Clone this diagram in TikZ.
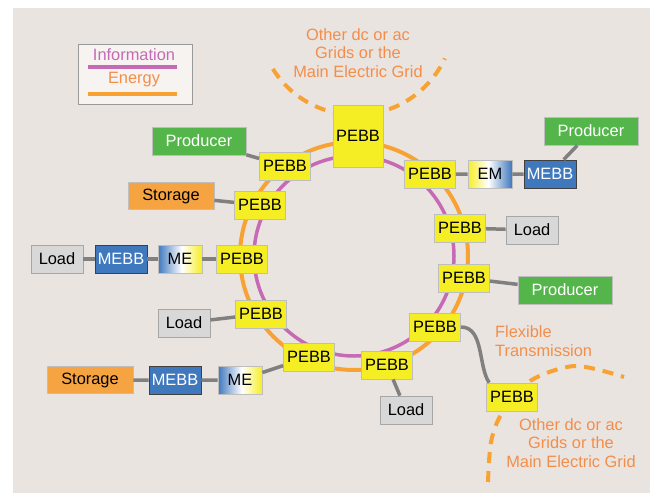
\documentclass[tikz,border=0pt]{standalone}
\usepackage{fontspec}
\setmainfont{Liberation Sans}
\usetikzlibrary{positioning}
\definecolor{panelbg}{RGB}{234,228,224}
\definecolor{legendbg}{RGB}{246,243,241}
\definecolor{ringorange}{RGB}{248,162,52}
\definecolor{ringpurple}{RGB}{198,106,182}
\definecolor{pebbyellow}{RGB}{246,238,36}
\definecolor{prodgreen}{RGB}{84,182,74}
\definecolor{stororange}{RGB}{246,164,66}
\definecolor{mebblue}{RGB}{64,120,190}
\definecolor{loadgray}{RGB}{216,216,216}
\definecolor{labelorange}{RGB}{243,142,74}
\definecolor{linkgray}{RGB}{128,128,128}
\definecolor{boxedge}{RGB}{190,190,190}
\pgfdeclarehorizontalshading{meshade}{100bp}{color(0bp)=(mebblue); color(25bp)=(mebblue); color(52bp)=(white); color(75bp)=(pebbyellow); color(100bp)=(pebbyellow)}
\pgfdeclarehorizontalshading{emshade}{100bp}{color(0bp)=(pebbyellow); color(25bp)=(pebbyellow); color(48bp)=(white); color(75bp)=(mebblue); color(100bp)=(mebblue)}
\tikzset{
  block/.style={rectangle, draw=boxedge, line width=0.8pt, minimum height=28pt, inner sep=0, font=\fontsize{16.4}{19}\selectfont},
  pebb_box/.style={block, fill=pebbyellow, minimum width=51pt},
  big_pebb_box/.style={pebb_box, minimum width=50pt, minimum height=62pt},
  load_box/.style={block, fill=loadgray, draw=black!35, minimum width=52pt},
  prod_box/.style={block, fill=prodgreen, text=white, minimum width=94pt},
  stor_box/.style={block, fill=stororange, minimum width=86pt, minimum height=27pt},
  mebb_box/.style={block, fill=mebblue, draw=black!75, text=white, minimum width=52pt},
  me_box/.style={block, minimum width=44pt, shading=meshade},
  em_box/.style={block, minimum width=44pt, shading=emshade},
  conn_line/.style={-, draw=linkgray, line width=3.5pt},
  ring_energy/.style={draw=ringorange, line width=4pt},
  ring_info/.style={draw=ringpurple, line width=3.5pt},
  grid_link/.style={draw=ringorange, line width=4pt, dash pattern=on 11pt off 8pt},
  grid_label/.style={text=labelorange, align=center, inner sep=0, font=\fontsize{16.4}{18.7}\selectfont}
}
\begin{document}
\begin{tikzpicture}[x=1pt, y=-1pt]
\useasboundingbox (0,0) rectangle (650,493);
\fill[panelbg] (13,8) rectangle (650,493);

%% Legend
\node[draw=black!40, line width=1pt, fill=legendbg, minimum width=114pt, minimum height=60pt, inner sep=0] at (135,74) (legend) {};
\node[grid_label, text=ringpurple] at (134,55) (info_txt) {Information};
\draw[ring_info, line width=4pt] (88,67) -- (177,67);
\node[grid_label] at (134,80) (energy_txt) {Energy};
\draw[ring_energy] (88,94) -- (177,94);

%% Ring
\draw[ring_energy] (354,256) circle[radius=114];
\draw[ring_info] (354,256) circle[radius=100];

%% Other grids
\draw[grid_link] (356,17) ++(148:98) arc[start angle=148, end angle=25, radius=98];
\draw[grid_link] plot[smooth] coordinates {(488,482) (491,442) (502,413) (530,381) (575,366) (624,377)};
\node[grid_label] at (358,53) (grid_top) {Other dc or ac\\Grids or the\\Main Electric Grid};
\node[grid_label] at (571,443) (grid_bot) {Other dc or ac\\Grids or the\\Main Electric Grid};
\node[grid_label, anchor=west, align=left] at (495,341) (flex_txt) {Flexible\\Transmission};

%% PEBBs
\node[big_pebb_box] at (358,136) (pebb1) {PEBB};
\node[pebb_box] at (285,166) (pebb2) {PEBB};
\node[pebb_box] at (260,205) (pebb3) {PEBB};
\node[pebb_box] at (242,259) (pebb4) {PEBB};
\node[pebb_box] at (261,314) (pebb5) {PEBB};
\node[pebb_box] at (309,357) (pebb6) {PEBB};
\node[pebb_box] at (387,365) (pebb7) {PEBB};
\node[pebb_box] at (435,327) (pebb8) {PEBB};
\node[pebb_box] at (464,278) (pebb9) {PEBB};
\node[pebb_box] at (460,228) (pebb10) {PEBB};
\node[pebb_box] at (430,174) (pebb11) {PEBB};
\node[pebb_box] at (512,397) (pebb12) {PEBB};

%% Units
\node[prod_box] at (199,141) (prod1) {Producer};
\node[stor_box] at (171,196) (stor1) {Storage};
\node[load_box] at (57,259)  (load1) {Load};
\node[mebb_box] at (121,259) (mebb1) {MEBB};
\node[me_box]   at (180,259) (me1)   {ME};
\node[load_box] at (184,323) (load2) {Load};
\node[stor_box] at (90,380)  (stor2) {Storage};
\node[mebb_box] at (175,380) (mebb2) {MEBB};
\node[me_box]   at (240,380) (me2)   {ME};
\node[load_box] at (406,410) (load3) {Load};
\node[prod_box] at (565,290) (prod2) {Producer};
\node[load_box] at (532,230) (load4) {Load};
\node[em_box]   at (490,174) (em1)   {EM};
\node[mebb_box] at (550,174) (mebb3) {MEBB};
\node[prod_box] at (591,131) (prod3) {Producer};

%% Connections
\draw[conn_line] (prod1) -- (pebb2);
\draw[conn_line] (stor1) -- (pebb3);
\draw[conn_line] (load1) -- (mebb1) -- (me1) -- (pebb4);
\draw[conn_line] (load2) -- (pebb5);
\draw[conn_line] (stor2) -- (mebb2) -- (me2) -- (pebb6);
\draw[conn_line] (pebb7) -- (load3);
\draw[conn_line] (pebb9) -- (prod2);
\draw[conn_line] (pebb10) -- (load4);
\draw[conn_line] (pebb11) -- (em1) -- (mebb3) -- (prod3);
\draw[conn_line] (pebb8.east) .. controls (484,327) and (478,366) .. ([xshift=3pt]pebb12.north west);

\end{tikzpicture}
\end{document}
